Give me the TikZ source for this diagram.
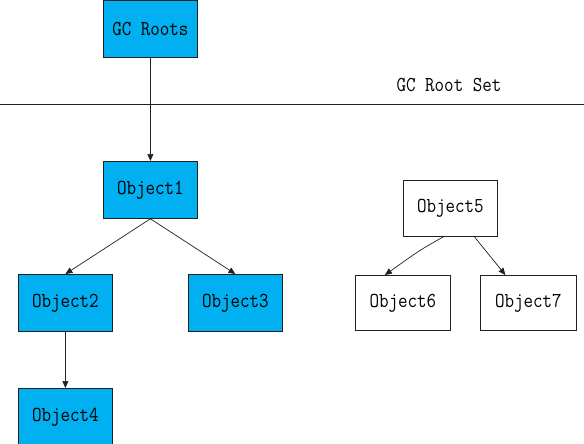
\documentclass[tikz,border=0pt]{standalone}
\usepackage{graphicx}
\usetikzlibrary{arrows.meta}
\definecolor{objblue}{HTML}{00B0F0}
\definecolor{edge}{HTML}{202020}
\newcommand{\boxfont}{\ttfamily\fontsize{18.5}{18.5}\selectfont}
\newcommand{\tall}[1]{\scalebox{1}[1.15]{#1}}
\tikzset{
  x=1pt, y=-1pt,
  obj/.style={draw=edge, line width=0.8pt, minimum width=94pt, minimum height=57pt, anchor=north west, inner sep=0pt, font=\boxfont},
  live/.style={obj, fill=objblue},
  dead/.style={obj, fill=white},
  conn/.style={draw=edge, line width=0.7pt, -{Triangle[length=7pt,width=6pt]}},
  lbl/.style={font=\boxfont, inner sep=0pt}
}
\begin{document}
\begin{tikzpicture}
\useasboundingbox (0,0) rectangle (584,444);
\node[live] (roots) at (103,0.5) {\tall{GC Roots}};
\node[live] (o1) at (103,161) {\tall{Object1}};
\node[live] (o2) at (18,274) {\tall{Object2}};
\node[live] (o3) at (188,274) {\tall{Object3}};
\node[live] (o4) at (18,388) {\tall{Object4}};
\node[dead, minimum width=94pt, minimum height=56pt] (o5) at (403,180) {\tall{Object5}};
\node[dead, minimum width=95pt, minimum height=55pt] (o6) at (355,275) {\tall{Object6}};
\node[dead, minimum width=96pt, minimum height=55pt] (o7) at (480,275) {\tall{Object7}};
\coordinate (lineL) at (0,104);
\coordinate (lineR) at (584,104);
\coordinate (bend) at (420,250);
\draw[draw=edge, line width=0.8pt] (lineL) -- (lineR);
\node[lbl] (setlbl) at (449,85) {\tall{GC Root Set}};
\draw[conn] (roots.south) -- (o1.north);
\draw[conn] (o1.south) -- (o2.north);
\draw[conn] (o1.south) -- (o3.north);
\draw[conn] (o2.south) -- (o4.north);
\draw[conn] ([xshift=-7pt]o5.south) .. controls (bend) .. ([xshift=-18pt]o6.north);
\draw[conn] ([xshift=24pt]o5.south) -- ([xshift=-23pt]o7.north);
\end{tikzpicture}
\end{document}
